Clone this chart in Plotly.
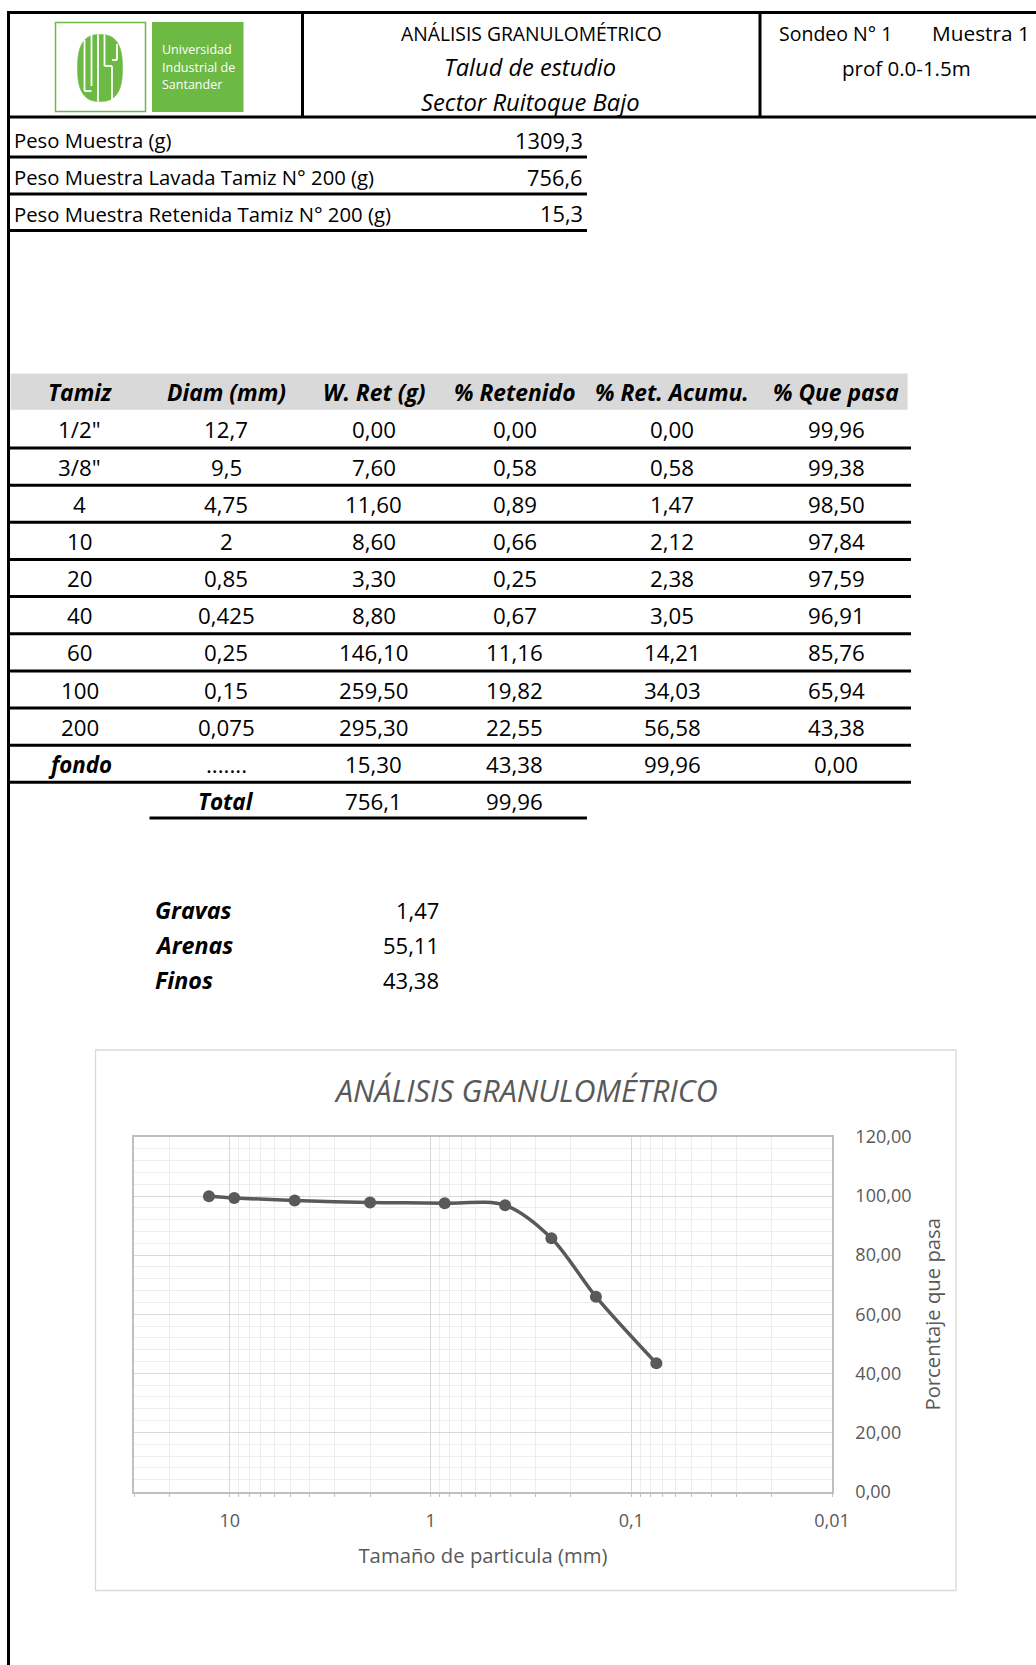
import math
import plotly.graph_objects as go

# ---------------- data ----------------
tamiz = ['1/2"', '3/8"', '4', '10', '20', '40', '60', '100', '200', 'fondo']
diam_mm = [12.7, 9.5, 4.75, 2, 0.85, 0.425, 0.25, 0.15, 0.075]
w_ret = [0.00, 7.60, 11.60, 8.60, 3.30, 8.80, 146.10, 259.50, 295.30, 15.30]
pct_ret = [0.00, 0.58, 0.89, 0.66, 0.25, 0.67, 11.16, 19.82, 22.55, 43.38]
pct_acum = [0.00, 0.58, 1.47, 2.12, 2.38, 3.05, 14.21, 34.03, 56.58, 99.96]
pct_pasa = [99.96, 99.38, 98.50, 97.84, 97.59, 96.91, 85.76, 65.94, 43.38, 0.00]
total_w = 756.1
total_pct = 99.96

peso_labels = ['Peso Muestra (g)', 'Peso Muestra Lavada Tamiz N° 200 (g)',
               'Peso Muestra Retenida Tamiz N° 200 (g)']
peso_values = [1309.3, 756.6, 15.3]

frac_labels = ['Gravas', 'Arenas', 'Finos']
frac_values = [1.47, 55.11, 43.38]

col_headers = ['Tamiz', 'Diam (mm)', 'W. Ret (g)', '% Retenido', '% Ret. Acumu.', '% Que pasa']

x_tickvals = [10, 1, 0.1, 0.01]
x_ticktext = ['10', '1', '0,1', '0,01']
y_tickvals = [0, 20, 40, 60, 80, 100, 120]
y_ticktext = ['0,00', '20,00', '40,00', '60,00', '80,00', '100,00', '120,00']

# ---------------- helpers ----------------
W, H = 1036, 1665
FONT = 'Open Sans'
GRAY = '#595959'
GREEN = '#6cb944'


def px(x):
    return x / W


def py(y):
    return 1 - y / H


def f2(v):
    return f"{v:.2f}".replace('.', ',')


def f1(v):
    return f"{v:.1f}".replace('.', ',')


def fg(v):
    return f"{v:g}".replace('.', ',')


shapes = []
annotations = []


def hline(x0, x1, y, w=3, color='black'):
    shapes.append(dict(type='line', xref='paper', yref='paper', x0=px(x0), x1=px(x1),
                       y0=py(y), y1=py(y), line=dict(color=color, width=w)))


def vline(x, y0, y1, w=3, color='black'):
    shapes.append(dict(type='line', xref='paper', yref='paper', x0=px(x), x1=px(x),
                       y0=py(y0), y1=py(y1), line=dict(color=color, width=w)))


def rect(x0, y0, x1, y1, fill=None, line=None, lw=1):
    shapes.append(dict(type='rect', xref='paper', yref='paper', x0=px(x0), x1=px(x1),
                       y0=py(y1), y1=py(y0), fillcolor=fill or 'rgba(0,0,0,0)',
                       line=dict(color=line or 'rgba(0,0,0,0)', width=lw if line else 0),
                       layer='below'))


def path(points, fill):
    d = ''
    for i, (x, y) in enumerate(points):
        d += ('M' if i == 0 else 'L') + f' {px(x):.5f},{py(y):.5f} '
    d += 'Z'
    shapes.append(dict(type='path', xref='paper', yref='paper', path=d,
                       fillcolor=fill, line=dict(color=fill, width=0.5)))


def txt(x, y, s, size=20, anchor='center', bold=False, italic=False, color='black', family=FONT):
    if italic:
        s = f'<i>{s}</i>'
    if bold:
        s = f'<b>{s}</b>'
    annotations.append(dict(x=px(x), y=py(y), xref='paper', yref='paper', text=s,
                            showarrow=False, xanchor=anchor, yanchor='middle',
                            font=dict(family=family, size=size, color=color)))


# ---------------- header block ----------------
hline(7, W, 12.5)
hline(7, W, 117)
vline(8.5, 11, H)
vline(302.5, 12, 117)
vline(760, 12, 117)

# logo
shapes.append(dict(type='rect', xref='paper', yref='paper', x0=px(55.5), x1=px(145.5),
                   y0=py(111.5), y1=py(22.5), line=dict(color=GREEN, width=1.5),
                   fillcolor='white'))
shapes.append(dict(type='rect', xref='paper', yref='paper', x0=px(152), x1=px(243.5),
                   y0=py(112), y1=py(22), line=dict(color=GREEN, width=0), fillcolor=GREEN))
emb = []
n_exp = 2.0 / 2.6
for k in range(0, 120):
    t = 2 * math.pi * k / 120
    c, s = math.cos(t), math.sin(t)
    emb.append((100 + 22.5 * math.copysign(abs(c) ** n_exp, c),
                68 + 33.5 * math.copysign(abs(s) ** n_exp, s)))
path(emb, GREEN)
for xs, y0, y1 in [(84.5, 40, 91), (91.5, 35, 86), (98, 34.5, 101.5),
                   (104.5, 34.5, 66), (112, 66, 101), (117, 44, 60)]:
    vline(xs, y0, y1, w=1.8, color='white')
hline(84.5, 91.5, 91, w=1.8, color='white')
hline(104.5, 112, 66, w=1.8, color='white')
hline(112, 117, 60, w=1.8, color='white')
for i, s in enumerate(['Universidad', 'Industrial de', 'Santander']):
    txt(160, 50 + 17.5 * i, s, size=12.5, anchor='left', color='white')

txt(531, 33, 'ANÁLISIS GRANULOMÉTRICO', size=19.3)
txt(530, 67, 'Talud de estudio', size=23.6, italic=True)
txt(530, 102, 'Sector Ruitoque Bajo', size=23.8, italic=True)
txt(777, 33, 'Sondeo N° 1', size=19.5, anchor='left')
txt(930, 33, 'Muestra 1', size=20.8, anchor='left')
txt(906, 68, 'prof 0.0-1.5m', size=20.5)

# sample weights
peso_y = [140, 177, 214]
peso_line = [157, 194, 230.5]
for lab, val, yy, yl in zip(peso_labels, peso_values, peso_y, peso_line):
    txt(12, yy, lab, size=20.3, anchor='left')
    txt(585, yy, f1(val), size=21.8, anchor='right')
    hline(7, 587, yl)

# ---------------- sieve table ----------------
rect(10.6, 373.6, 907.6, 409.7, fill='#d9d9d9')
col_x = [79.5, 226, 373.6, 514.5, 672, 836]
for cx, h in zip(col_x, col_headers):
    txt(cx, 392, h, size=22.8, bold=True, italic=True)

row_h = 37.15
for i in range(len(tamiz)):
    yy = 430 + row_h * i
    is_fondo = tamiz[i] == 'fondo'
    txt(col_x[0], yy, tamiz[i], size=22.3, bold=is_fondo, italic=is_fondo)
    txt(col_x[1], yy, fg(diam_mm[i]) if i < len(diam_mm) else '.......', size=22.3)
    txt(col_x[2], yy, f2(w_ret[i]), size=22.3)
    txt(col_x[3], yy, f2(pct_ret[i]), size=22.3)
    txt(col_x[4], yy, f2(pct_acum[i]), size=22.3)
    txt(col_x[5], yy, f2(pct_pasa[i]), size=22.3)
    hline(7, 911, 448 + row_h * i)

yt = 430 + row_h * len(tamiz)
txt(col_x[1], yt, 'Total', size=22.5, bold=True, italic=True)
txt(col_x[2], yt, f1(total_w), size=22.3)
txt(col_x[3], yt, f2(total_pct), size=22.3)
hline(149.5, 587, 818)

for i, (lab, val) in enumerate(zip(frac_labels, frac_values)):
    yy = 910 + 35 * i
    txt(153, yy, lab, size=23.3, bold=True, italic=True, anchor='left')
    txt(441, yy, f2(val), size=22, anchor='right')

# ---------------- chart ----------------
rect(95.5, 1050, 956, 1590.5, line='#d9d9d9', lw=1.3)
txt(526, 1090, 'ANÁLISIS GRANULOMÉTRICO', size=30.5, italic=True, color=GRAY)

fig = go.Figure()
fig.add_trace(go.Scatter(
    x=diam_mm, y=pct_pasa[:len(diam_mm)], mode='lines+markers',
    line=dict(color=GRAY, width=3.5, shape='spline', smoothing=0.9),
    marker=dict(color=GRAY, size=12), showlegend=False, hoverinfo='skip'))

fig.update_layout(
    width=W, height=H, margin=dict(l=0, r=0, t=0, b=0, pad=0, autoexpand=False),
    paper_bgcolor='white', plot_bgcolor='white',
    shapes=shapes, annotations=annotations, showlegend=False,
    xaxis=dict(
        type='log', domain=[px(134), px(832)], range=[math.log10(30), -2],
        automargin=False,
        tickvals=x_tickvals, ticktext=x_ticktext, ticks='',
        showgrid=True, gridcolor='#d9d9d9', gridwidth=1.2,
        minor=dict(dtick='D1', showgrid=True, gridcolor='#ededed', gridwidth=1,
                   ticks='outside', ticklen=4, tickcolor='#bfbfbf'),
        showline=True, linecolor='#bfbfbf', linewidth=1.5, mirror=True, zeroline=False,
        tickfont=dict(family=FONT, size=18, color=GRAY), ticklabelstandoff=12,
        title=dict(text='Tamaño de particula (mm)', standoff=18,
                   font=dict(family=FONT, size=20.3, color=GRAY)),
        anchor='y'),
    yaxis=dict(
        domain=[py(1491.5), py(1137)], range=[0, 120], side='right',
        automargin=False,
        tickvals=y_tickvals, ticktext=y_ticktext, ticks='',
        showgrid=True, gridcolor='#d9d9d9', gridwidth=1.2,
        minor=dict(dtick=4, showgrid=True, gridcolor='#ededed', gridwidth=1),
        showline=True, linecolor='#bfbfbf', linewidth=1.5, mirror=True, zeroline=False,
        tickfont=dict(family=FONT, size=18, color=GRAY), ticklabelstandoff=18,
        title=dict(text='Porcentaje que pasa', standoff=15,
                   font=dict(family=FONT, size=20.3, color=GRAY)),
        anchor='x'),
)

fig.write_html(
    'out.html',
    config={'displayModeBar': False},
    post_script="document.body.style.margin='0';"
                "document.documentElement.style.overflow='hidden';")
